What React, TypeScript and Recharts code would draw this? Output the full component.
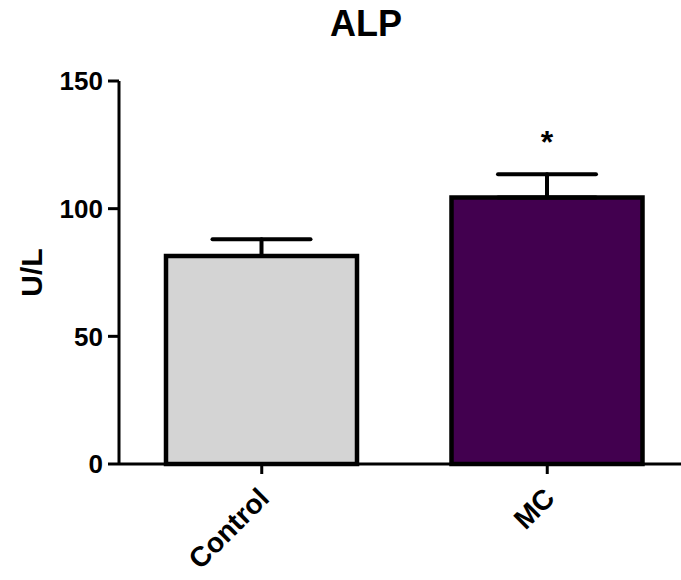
import { Bar, BarChart, Cell, ErrorBar, LabelList, XAxis, YAxis } from "recharts"

const groups = ["Control", "MC"]
const means = [81.5, 104.4]
const sems = [6.5, 9.1]
const marks = ["", "*"]
const yTicks = [0, 50, 100, 150]
const fills = ["#d4d4d4", "#42004f"]

const data = groups.map((group, i) => ({
  group,
  mean: means[i],
  err: [0, sems[i]],
  mark: marks[i],
}))

const font = "'Liberation Sans', Arial, sans-serif"

function GroupTick({ x, y, payload }: any) {
  return (
    <g transform={`translate(${x + 9},${y + 24})`}>
      <text textAnchor="end" transform="rotate(-45)" fontFamily={font} fontWeight="bold" fontSize={28} fill="#000">
        {payload.value}
      </text>
    </g>
  )
}

function StarLabel({ x, y, width, value }: any) {
  if (!value) return null
  return (
    <text x={x + width / 2} y={y - 44} textAnchor="middle" fontFamily={font} fontWeight="bold" fontSize={32} fill="#000">
      {value}
    </text>
  )
}

function UnitLabel({ viewBox }: any) {
  const cx = viewBox.x + 31
  const cy = viewBox.y + viewBox.height / 2
  return (
    <text
      x={cx}
      y={cy}
      transform={`rotate(-90,${cx},${cy})`}
      textAnchor="middle"
      dominantBaseline="central"
      fontFamily={font}
      fontWeight="bold"
      fontSize={30}
      fill="#000"
    >
      U/L
    </text>
  )
}

export default function App() {
  return (
    <div style={{ position: "absolute", left: 0, top: 0, width: 681, height: 580, overflow: "hidden", background: "#fff" }}>
      <div
        style={{
          position: "absolute",
          left: 266,
          width: 200,
          top: 4,
          textAlign: "center",
          fontFamily: font,
          fontWeight: "bold",
          fontSize: 36,
          lineHeight: "40px",
        }}
      >
        ALP
      </div>
      <BarChart width={690} height={580} data={data} margin={{ top: 81, right: 0, left: 0, bottom: 0 }} barSize={191}>
        <XAxis
          dataKey="group"
          height={116}
          tick={<GroupTick />}
          tickSize={10}
          axisLine={{ stroke: "#000", strokeWidth: 3 }}
          tickLine={{ stroke: "#000", strokeWidth: 3 }}
          interval={0}
        />
        <YAxis
          width={119}
          domain={[0, 150]}
          ticks={yTicks}
          tickSize={11}
          tickMargin={5}
          axisLine={{ stroke: "#000", strokeWidth: 3 }}
          tickLine={{ stroke: "#000", strokeWidth: 3 }}
          tick={{ fill: "#000", fontFamily: font, fontWeight: "bold", fontSize: 26 }}
          label={<UnitLabel />}
        />
        <Bar dataKey="mean" stroke="#000" strokeWidth={4.5} isAnimationActive={false}>
          {data.map((d, i) => (
            <Cell key={d.group} fill={fills[i]} />
          ))}
          <ErrorBar dataKey="err" direction="y" width={49} stroke="#000" strokeWidth={4} strokeLinecap="round" />
          <LabelList dataKey="mark" content={<StarLabel />} />
        </Bar>
      </BarChart>
    </div>
  )
}
